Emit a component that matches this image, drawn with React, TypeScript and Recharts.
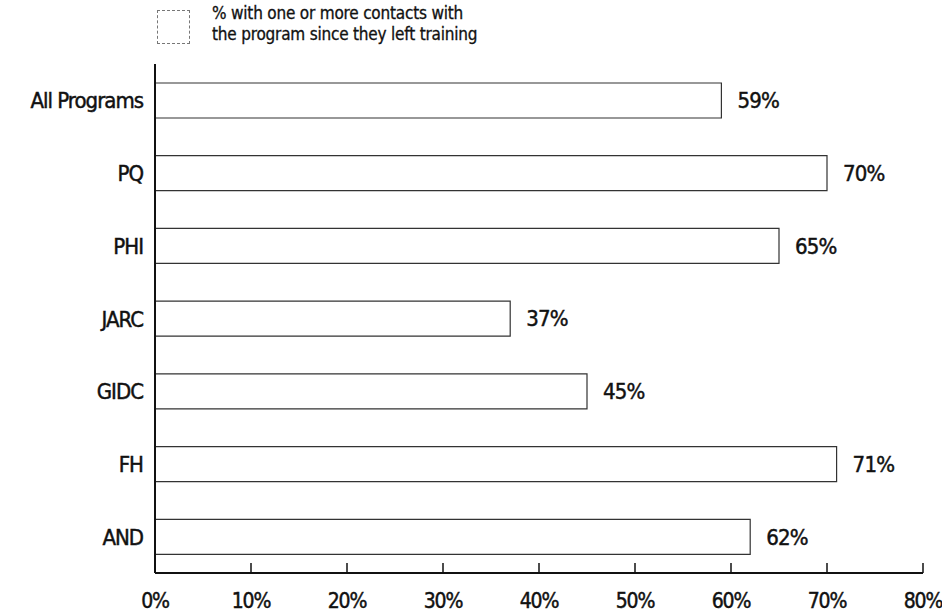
import React from "react";
import { BarChart, Bar, XAxis, YAxis, LabelList } from "recharts";

const categories = ["All Programs", "PQ", "PHI", "JARC", "GIDC", "FH", "AND"];
const contactPct = [59, 70, 65, 37, 45, 71, 62];
const xTicks = [0, 10, 20, 30, 40, 50, 60, 70, 80];
const legendLines = ["% with one or more contacts with", "the program since they left training"];

const data = categories.map((c, i) => ({ name: c, value: contactPct[i] }));

const FONT = "'DejaVu Sans Condensed', 'Liberation Sans Narrow', 'Roboto', sans-serif";

const XTick = (props: any) => {
  const { x, y, payload } = props;
  return (
    <g>
      <line x1={x} x2={x} y1={y} y2={y - 10} stroke="#111" strokeWidth={1.5} />
      <text
        x={x}
        y={y + 35}
        textAnchor="middle"
        fontFamily={FONT}
        fontSize={21}
        letterSpacing={-1.2}
        fill="#111"
        stroke="#111"
        strokeWidth={0.45}
      >
        {payload.value}%
      </text>
    </g>
  );
};

const YTick = (props: any) => {
  const { x, y, payload } = props;
  return (
    <text
      x={x}
      y={y}
      dy={8}
      textAnchor="end"
      fontFamily={FONT}
      fontSize={22}
      letterSpacing={-1}
      fill="#111"
      stroke="#111"
      strokeWidth={0.45}
    >
      {payload.value}
    </text>
  );
};

export default function App() {
  return (
    <div style={{ position: "absolute", left: 0, top: 0, width: 942, height: 616, background: "#fff" }}>
      <div style={{ position: "absolute", left: 157, top: 10, width: 31, height: 32, border: "1px dashed #777" }} />
      <div
        style={{
          position: "absolute",
          left: 212,
          top: 3,
          fontFamily: FONT,
          fontSize: 17,
          lineHeight: "21px",
          letterSpacing: "-0.2px",
          color: "#111",
          WebkitTextStroke: "0.3px #111",
        }}
      >
        {legendLines.map((l) => (
          <div key={l}>{l}</div>
        ))}
      </div>
      <BarChart
        width={942}
        height={616}
        data={data}
        layout="vertical"
        margin={{ top: 64, right: 19, bottom: 0, left: 0 }}
      >
        <XAxis
          type="number"
          domain={[0, 80]}
          ticks={xTicks}
          height={43}
          tickLine={false}
          tickSize={0}
          tickMargin={0}
          axisLine={{ stroke: "#111", strokeWidth: 2 }}
          tick={<XTick />}
          interval={0}
        />
        <YAxis
          type="category"
          dataKey="name"
          width={155}
          tickLine={false}
          tickSize={0}
          tickMargin={12}
          axisLine={{ stroke: "#111", strokeWidth: 2 }}
          tick={<YTick />}
          interval={0}
        />
        <Bar dataKey="value" fill="#fff" stroke="#333" strokeWidth={1.2} barSize={35} isAnimationActive={false}>
          <LabelList
            dataKey="value"
            position="right"
            offset={16}
            formatter={(v: any) => `${v}%`}
            style={{
              fontFamily: FONT,
              fontSize: 22,
              letterSpacing: -0.8,
              fill: "#111",
              stroke: "#111",
              strokeWidth: 0.45,
            }}
          />
        </Bar>
      </BarChart>
    </div>
  );
}
